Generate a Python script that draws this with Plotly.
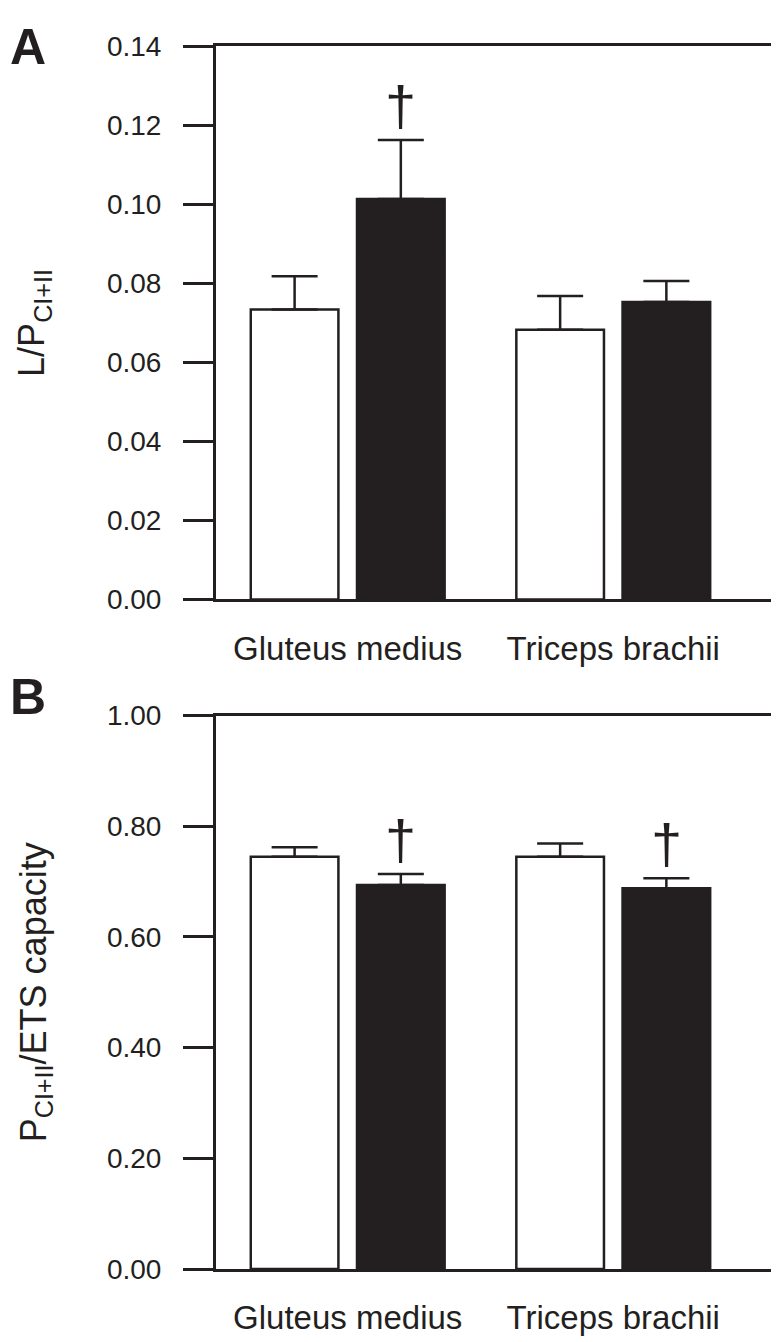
import plotly.graph_objects as go
from plotly.subplots import make_subplots

categories = ["Gluteus medius", "Triceps brachii"]

# Panel A: L/P CI+II
a_open = [0.0734, 0.0683]
a_open_err = [0.0084, 0.0085]
a_filled = [0.1014, 0.0753]
a_filled_err = [0.0149, 0.0053]
a_sig = [True, False]

# Panel B: P CI+II / ETS capacity
b_open = [0.745, 0.745]
b_open_err = [0.017, 0.024]
b_filled = [0.694, 0.688]
b_filled_err = [0.020, 0.018]
b_sig = [True, True]

a_ticks = [0.00, 0.02, 0.04, 0.06, 0.08, 0.10, 0.12, 0.14]
b_ticks = [0.00, 0.20, 0.40, 0.60, 0.80, 1.00]

INK = "#231f20"
FONT = "Liberation Sans, Arial, Helvetica, sans-serif"
W, H = 779, 1342

fig = make_subplots(rows=2, cols=1)

def add_panel(row, open_v, open_e, fill_v, fill_e):
    for vals, errs, fill in ((open_v, open_e, "white"), (fill_v, fill_e, INK)):
        fig.add_trace(go.Bar(
            x=categories, y=vals,
            marker=dict(color=fill, line=dict(color=INK, width=2.5)),
            error_y=dict(type="data", array=errs, arrayminus=[0] * len(errs),
                         symmetric=False, color=INK, thickness=2.5, width=23),
            showlegend=False,
        ), row=row, col=1)

add_panel(1, a_open, a_open_err, a_filled, a_filled_err)
add_panel(2, b_open, b_open_err, b_filled, b_filled_err)

xdom = [208 / W, 777 / W]
ydomA = [1 - 590 / H, 1 - 24 / H]
ydomB = [1 - 1275.5 / H, 1 - 709 / H]

xcommon = dict(range=[-0.497, 1.643], showline=True, linecolor=INK, linewidth=2.5,
               mirror=True, ticks="", tickfont=dict(family=FONT, size=33, color=INK),
               ticklabelstandoff=18, showgrid=False, zeroline=False, domain=xdom)
ycommon = dict(showline=True, linecolor=INK, linewidth=2.5, mirror=True,
               ticks="outside", ticklen=30, tickwidth=2.5, tickcolor=INK,
               tickfont=dict(family=FONT, size=28, color=INK), tickformat=".2f",
               ticklabelstandoff=16, showgrid=False, zeroline=False)

fig.update_xaxes(**xcommon)
fig.update_layout(
    xaxis=dict(domain=xdom),
    xaxis2=dict(domain=xdom),
    yaxis=dict(**ycommon, range=[0, 0.14], tickvals=a_ticks, domain=ydomA),
    yaxis2=dict(**ycommon, range=[0, 1.0], tickvals=b_ticks, domain=ydomB),
    barmode="group", bargap=0.2, bargroupgap=0.175,
    width=W, height=H, autosize=False,
    margin=dict(l=0, r=0, t=0, b=0),
    paper_bgcolor="white", plot_bgcolor="white",
    font=dict(family=FONT, color=INK),
)

annotations = []
for xref, yref, vals, errs, sig in (("x", "y", a_filled, a_filled_err, a_sig),
                                    ("x2", "y2", b_filled, b_filled_err, b_sig)):
    for i, s in enumerate(sig):
        if s:
            annotations.append(dict(x=i + 0.2, y=vals[i] + errs[i], xref=xref, yref=yref,
                                    text="†", showarrow=False, yanchor="bottom",
                                    yshift=1, font=dict(family=FONT, size=56, color=INK)))

annotations += [
    dict(x=0, y=1 - 25 / H, xref="paper", yref="paper", text="<b>A</b>", showarrow=False,
         xanchor="left", yanchor="middle", xshift=0, font=dict(family=FONT, size=50, color=INK)),
    dict(x=0, y=1 - 690 / H, xref="paper", yref="paper", text="<b>B</b>", showarrow=False,
         xanchor="left", yanchor="middle", xshift=0, font=dict(family=FONT, size=50, color=INK)),
    dict(x=0, y=sum(ydomA) / 2, xref="paper", yref="paper", text="L/P<sub>CI+II</sub>",
         textangle=-90, showarrow=False, xanchor="left", yanchor="middle", xshift=1,
         font=dict(family=FONT, size=36, color=INK)),
    dict(x=0, y=sum(ydomB) / 2, xref="paper", yref="paper",
         text="P<sub>CI+II</sub>/ETS capacity",
         textangle=-90, showarrow=False, xanchor="left", yanchor="middle", xshift=3,
         font=dict(family=FONT, size=36, color=INK)),
]
fig.update_layout(annotations=annotations)

fig.write_html("out.html")
